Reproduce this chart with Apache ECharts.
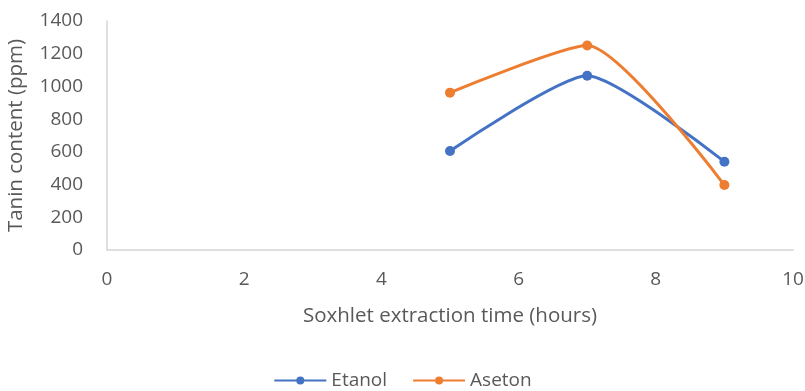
<!DOCTYPE html>
<html>
<head>
<meta charset="utf-8">
<script src="https://cdn.jsdelivr.net/npm/echarts@6/dist/echarts.min.js"></script>
<style>
  html, body { margin: 0; padding: 0; background: #ffffff; }
  #chart { width: 805px; height: 391px; }
</style>
</head>
<body>
<div id="chart"></div>
<script>
// Extraction times (hours) and tannin content (ppm) per solvent
const hours = [5, 7, 9];
const etanol = [605, 1065, 540];
const aseton = [962, 1250, 397];
const seriesNames = ['Etanol', 'Aseton'];
const xTicks = [0, 2, 4, 6, 8, 10];
const yTicks = [0, 200, 400, 600, 800, 1000, 1200, 1400];

const textColor = '#595959';
const fontFamily = '"Open Sans", "Noto Sans", sans-serif';
const fontSize = 19;
const nameFontSize = 20.5;

const chart = echarts.init(document.getElementById('chart'), null, { renderer: 'canvas' });

function pairs(xs, ys) {
  return xs.map((x, i) => [x, ys[i]]);
}

chart.setOption({
  animation: false,
  backgroundColor: '#ffffff',
  textStyle: { fontFamily: fontFamily, color: textColor },
  grid: {
    left: 107, right: 12, top: 21, bottom: 141,
    containLabel: false,
    outerBoundsMode: 'none'
  },
  legend: {
    top: 366,
    left: 'center',
    itemWidth: 52,
    itemHeight: 10,
    itemGap: 25,
    textStyle: { fontSize: fontSize, color: textColor, fontFamily: fontFamily },
    data: seriesNames
  },
  xAxis: {
    type: 'value',
    min: xTicks[0],
    max: xTicks[xTicks.length - 1],
    interval: xTicks[1] - xTicks[0],
    name: 'Soxhlet extraction time (hours)',
    nameLocation: 'middle',
    nameGap: 56,
    nameTextStyle: { fontSize: nameFontSize, color: textColor },
    axisLine: { show: true, lineStyle: { color: '#d4d4d4', width: 1.5 } },
    axisTick: { show: false },
    splitLine: { show: false },
    axisLabel: { fontSize: fontSize, color: textColor, margin: 20 }
  },
  yAxis: {
    type: 'value',
    min: yTicks[0],
    max: yTicks[yTicks.length - 1],
    interval: yTicks[1] - yTicks[0],
    name: 'Tanin content (ppm)',
    nameLocation: 'middle',
    nameGap: 80,
    nameRotate: 90,
    nameTextStyle: { fontSize: nameFontSize, color: textColor },
    axisLine: { show: true, lineStyle: { color: '#d4d4d4', width: 1.5 } },
    axisTick: { show: false },
    splitLine: { show: false },
    axisLabel: {
      fontSize: fontSize,
      color: textColor,
      margin: 24,
      formatter: (v) => String(v)
    }
  },
  series: [
    {
      name: seriesNames[0],
      type: 'line',
      data: pairs(hours, etanol),
      smooth: 0.2,
      symbol: 'circle',
      symbolSize: 10,
      color: '#4472C4',
      lineStyle: { width: 3, color: '#4472C4' },
      itemStyle: { color: '#4472C4' }
    },
    {
      name: seriesNames[1],
      type: 'line',
      data: pairs(hours, aseton),
      smooth: 0.2,
      symbol: 'circle',
      symbolSize: 10,
      color: '#ED7D31',
      lineStyle: { width: 3, color: '#ED7D31' },
      itemStyle: { color: '#ED7D31' }
    }
  ]
});
</script>
</body>
</html>
